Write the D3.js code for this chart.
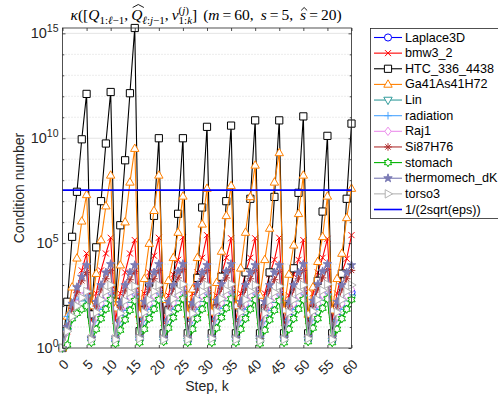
<!DOCTYPE html>
<html>
<head>
<meta charset="utf-8">
<script src="https://cdn.jsdelivr.net/npm/d3@7"></script>
<style>
  body { margin: 0; background: #fff; }
  svg { display: block; }
</style>
</head>
<body>
<svg id="chart" width="498" height="398"></svg>
<script>
// Step index k = 0..60
const steps = d3.range(0, 61);

// Condition numbers per test matrix, one value per step k
const laplace3D = [1,
  7.9, 32, 79, 200, 400,
  2.5, 20, 79, 200, 450,
  2.2, 18, 70, 180, 400,
  2.5, 22, 89, 230, 450,
  2.5, 20, 79, 200, 400,
  2.2, 20, 79, 200, 450,
  2.5, 22, 79, 180, 400,
  2.5, 20, 89, 230, 450,
  2.2, 18, 70, 200, 400,
  2.5, 20, 79, 200, 450,
  2.5, 22, 79, 200, 400,
  2.2, 20, 79, 230, 450];

const bmw3_2 = [1,
  6.3, 63, 630, 5e3, 3.2e4,
  20, 400, 5e3, 3.2e4, 1.8e5,
  20, 400, 4e3, 3.2e4, 1.4e5,
  20, 400, 4e3, 2.5e4, 1.8e5,
  16, 320, 3.2e3, 1.6e4, 1.9e5,
  20, 400, 4e3, 2e4, 2.4e5,
  20, 320, 3.2e3, 2e4, 1.7e5,
  20, 400, 4e3, 2e4, 1.7e5,
  20, 400, 3.2e3, 1.6e4, 1.8e5,
  16, 320, 3.2e3, 1.6e4, 1.4e5,
  20, 400, 4e3, 2e4, 1.6e5,
  20, 400, 4e3, 1.8e4, 2.4e5];

const htc336 = [1,
  160, 2e5, 2.8e7, 8.9e9, 1.3e12,
  40, 6.3e4, 1e7, 5.6e9, 1.6e12,
  160, 7.1e5, 8.9e8, 1.4e12, 1.8e15,
  6.3, 63, 1.3e3, 2e6, 1e10,
  5, 63, 1e3, 2.5e6, 1e10,
  5, 79, 2.2e3, 5e6, 3.5e10,
  5, 79, 2.5e3, 1e7, 4e10,
  5, 79, 4e3, 1.3e7, 7.1e10,
  5, 79, 4e3, 1.6e7, 7.1e10,
  5, 100, 6.3e3, 2.5e7, 1.1e11,
  5, 63, 1.6e3, 3.2e6, 1.3e10,
  5, 79, 3.5e3, 1.3e7, 5e10];

const ga41As41H72 = [1,
  32, 790, 1.9e4, 1.1e6, 2e7,
  100, 3.5e3, 1.4e5, 5.8e6, 1.7e8,
  79, 8.9e3, 1e6, 7.9e7, 3.2e9,
  40, 2e3, 9.5e4, 3.5e6, 1.7e8,
  200, 1.6e3, 2e4, 3.2e5, 1.7e7,
  40, 630, 2e4, 7.9e5, 4e7,
  50, 1.3e3, 4e4, 2e6, 5.4e7,
  100, 6.3e3, 3.2e5, 1.6e7, 5.1e8,
  320, 1.6e4, 5e5, 7.9e7, 2e9,
  63, 3.2e3, 7.9e4, 2.5e6, 1.7e8,
  40, 790, 1.3e4, 2e5, 1.7e7,
  63, 2e3, 3.2e4, 1.6e6, 4e7];

const lin = [1,
  6.3, 25, 63, 130, 250,
  2.5, 16, 50, 130, 250,
  2.2, 16, 45, 110, 220,
  2.5, 18, 50, 130, 280,
  2.5, 16, 50, 130, 250,
  2.2, 16, 50, 120, 250,
  2.5, 18, 56, 130, 280,
  2.5, 16, 50, 130, 250,
  2.2, 14, 45, 110, 220,
  2.5, 16, 50, 130, 250,
  2.5, 18, 50, 140, 280,
  2.2, 16, 50, 130, 250];

const radiation = [1,
  32, 130, 200, 250, 320,
  2.5, 25, 100, 320, 500,
  2.5, 22, 89, 280, 450,
  2.8, 25, 100, 320, 500,
  2.5, 25, 110, 350, 560,
  2.5, 22, 100, 320, 500,
  2.8, 28, 110, 350, 560,
  2.5, 25, 100, 320, 500,
  2.2, 22, 89, 280, 450,
  2.5, 25, 100, 320, 500,
  2.8, 28, 100, 350, 560,
  2.5, 25, 100, 320, 500];

const raj1 = [1,
  6.3, 40, 130, 280, 500,
  2.5, 32, 130, 320, 630,
  2.5, 28, 110, 280, 560,
  2.8, 32, 130, 320, 630,
  2.5, 32, 140, 350, 700,
  2.5, 28, 130, 320, 630,
  2.8, 35, 140, 350, 700,
  2.5, 32, 130, 320, 630,
  2.2, 28, 110, 280, 560,
  2.5, 32, 130, 320, 630,
  2.8, 35, 130, 350, 700,
  2.5, 32, 130, 320, 630];

const si87H76 = [1,
  10, 78, 430, 1.6e3, 4e3,
  3.2, 100, 630, 2e3, 5e3,
  3.2, 89, 560, 1.8e3, 4.5e3,
  3.5, 100, 630, 2e3, 5e3,
  3.2, 100, 700, 2.2e3, 5.6e3,
  3.2, 89, 630, 2e3, 5e3,
  3.5, 110, 700, 2.2e3, 5.6e3,
  3.2, 100, 630, 2e3, 5e3,
  2.8, 89, 560, 1.8e3, 4.5e3,
  3.2, 100, 630, 2e3, 5e3,
  3.5, 110, 630, 2.2e3, 5.6e3,
  3.2, 100, 630, 2e3, 5e3];

const stomach = [1,
  1.4, 25, 45, 71, 100,
  1.8, 7.9, 25, 71, 200,
  1.6, 7.1, 22, 63, 180,
  1.8, 7.9, 25, 71, 200,
  2.0, 8.9, 28, 79, 220,
  1.8, 7.9, 25, 71, 200,
  1.8, 8.9, 28, 79, 220,
  1.8, 7.9, 25, 71, 200,
  1.6, 7.1, 22, 63, 180,
  1.8, 7.9, 25, 71, 200,
  2.0, 8.9, 25, 79, 220,
  1.8, 7.9, 25, 71, 200];

const thermomechDK = [1,
  10, 130, 790, 2.5e3, 8.9e3,
  3.2, 160, 1e3, 4e3, 1e4,
  3.2, 140, 1e3, 4e3, 8.9e3,
  3.5, 160, 1.1e3, 4e3, 1e4,
  3.2, 160, 1e3, 4.5e3, 1e4,
  3.2, 140, 1e3, 4e3, 8.9e3,
  3.5, 180, 1.1e3, 4.5e3, 1e4,
  3.2, 160, 1e3, 4e3, 8.9e3,
  3.2, 160, 1e3, 4e3, 8.9e3,
  3.2, 160, 1e3, 4e3, 1e4,
  3.5, 180, 1.1e3, 4.5e3, 1e4,
  3.2, 160, 1e3, 4e3, 8.9e3];

const torso3 = [1,
  6.3, 32, 100, 250, 500,
  2.5, 50, 200, 500, 1e3,
  2.5, 45, 180, 450, 890,
  2.8, 50, 200, 500, 1e3,
  2.5, 50, 220, 560, 1.1e3,
  2.5, 45, 200, 500, 1e3,
  2.8, 56, 220, 560, 1.1e3,
  2.5, 50, 200, 500, 1e3,
  2.2, 45, 180, 450, 890,
  2.5, 50, 200, 500, 1e3,
  2.8, 56, 200, 560, 1.1e3,
  2.5, 50, 200, 500, 1e3];

// Double-precision machine epsilon and the reference level 1/(2*sqrt(eps))
const machineEps = 2.220446049250313e-16;
const epsLevel = 1 / (2 * Math.sqrt(machineEps));

const seriesNames = ["Laplace3D", "bmw3_2", "HTC_336_4438", "Ga41As41H72", "Lin",
  "radiation", "Raj1", "Si87H76", "stomach", "thermomech_dK", "torso3"];
const seriesValues = [laplace3D, bmw3_2, htc336, ga41As41H72, lin,
  radiation, raj1, si87H76, stomach, thermomechDK, torso3];
const seriesMarkers = ["o", "x", "s", "^", "v", "+", "d", "*", "h", "p", ">"];
const seriesColors = ["#0000ff", "#ff0000", "#000000", "#ff8000", "#339c9c",
  "#4da6ff", "#ec8eec", "#b03030", "#00b300", "#7b7bb5", "#b3b3b3"];
const epsLabel = "1/(2sqrt(eps))";

const xTickValues = [0, 5, 10, 15, 20, 25, 30, 35, 40, 45, 50, 55, 60];
const yTickExponents = [0, 5, 10, 15];
const yMinorExponents = [1, 2, 3, 4, 6, 7, 8, 9, 11, 12, 13, 14];

const sans = "'Liberation Sans', Arial, Helvetica, sans-serif";
const serif = "'Liberation Serif', 'DejaVu Serif', serif";

const svg = d3.select("#chart");
const plot = { left: 62.5, right: 351.5, top: 28, bottom: 348 };

const allValues = seriesValues.flat();
const x = d3.scaleLinear().domain([0, 60]).range([plot.left, plot.right]);
const y = d3.scaleLog().domain([d3.min(allValues), d3.max(allValues)]).range([plot.bottom, plot.top]);

// Grid: solid at labelled decades, dotted at the others
const grid = svg.append("g");
grid.selectAll("line.minor").data(yMinorExponents).join("line")
  .attr("x1", plot.left).attr("x2", plot.right)
  .attr("y1", d => y(Math.pow(10, d))).attr("y2", d => y(Math.pow(10, d)))
  .attr("stroke", "#cfcfcf").attr("stroke-width", 0.8).attr("stroke-dasharray", "1,2");
grid.selectAll("line.major").data(yTickExponents.filter(e => e > 0)).join("line")
  .attr("x1", plot.left).attr("x2", plot.right)
  .attr("y1", d => y(Math.pow(10, d))).attr("y2", d => y(Math.pow(10, d)))
  .attr("stroke", "#e4e4e4").attr("stroke-width", 1);

// Marker shapes
function markerPath(m) {
  switch (m) {
    case "o": return d3.symbol(d3.symbolCircle, 40)();
    case "x": return "M-3,-3L3,3M-3,3L3,-3";
    case "s": return "M-3.6,-3.6h7.2v7.2h-7.2Z";
    case "^": return "M0,-4.6L4.2,2.8L-4.2,2.8Z";
    case "v": return "M0,4.6L4.2,-2.8L-4.2,-2.8Z";
    case ">": return "M4.6,0L-2.8,4.2L-2.8,-4.2Z";
    case "+": return "M-3.8,0H3.8M0,-3.8V3.8";
    case "d": return "M0,-4.2L3.2,0L0,4.2L-3.2,0Z";
    case "*": return "M-3.8,0H3.8M0,-3.8V3.8M-2.7,-2.7L2.7,2.7M-2.7,2.7L2.7,-2.7";
    case "p": return d3.symbol(d3.symbolStar, 22)();
    case "h": {
      const pts = d3.range(12).map(i => {
        const a = -Math.PI / 2 + i * Math.PI / 6;
        const r = i % 2 === 0 ? 4.2 : 2.4;
        return [r * Math.cos(a), r * Math.sin(a)];
      });
      return "M" + pts.map(p => p[0].toFixed(2) + "," + p[1].toFixed(2)).join("L") + "Z";
    }
  }
  return "";
}
const openMarkers = new Set(["x", "+", "*"]);
function markerFill(m, c) {
  if (openMarkers.has(m)) return "none";
  if (m === "p") return c;
  return "#fff";
}

const line = d3.line().x((d, i) => x(steps[i])).y(d => y(d));

const plotArea = svg.append("g");
seriesValues.forEach((vals, si) => {
  const g = plotArea.append("g");
  const c = seriesColors[si], m = seriesMarkers[si];
  g.append("path").datum(vals).attr("d", line)
    .attr("fill", "none").attr("stroke", c).attr("stroke-width", 1.1)
    .attr("stroke-linejoin", "round");
  g.selectAll("path.mk").data(vals).join("path").attr("class", "mk")
    .attr("transform", (d, i) => `translate(${x(steps[i])},${y(d)})`)
    .attr("d", markerPath(m))
    .attr("fill", markerFill(m, c)).attr("stroke", c).attr("stroke-width", 1);
});

// Reference level line
plotArea.append("line")
  .attr("x1", x(0)).attr("x2", x(60))
  .attr("y1", y(epsLevel)).attr("y2", y(epsLevel))
  .attr("stroke", "#0000ff").attr("stroke-width", 1.6);

// Axes box and ticks
const axisColor = "#262626";
svg.append("rect")
  .attr("x", plot.left).attr("y", plot.top)
  .attr("width", plot.right - plot.left).attr("height", plot.bottom - plot.top)
  .attr("fill", "none").attr("stroke", axisColor).attr("stroke-width", 0.8);

const xAxisBottom = d3.axisBottom(x).tickValues(xTickValues).tickSize(-3).tickFormat("");
const xAxisTop = d3.axisTop(x).tickValues(xTickValues).tickSize(-3).tickFormat("");
svg.append("g").attr("transform", `translate(0,${plot.bottom})`).call(xAxisBottom)
  .call(g => g.select(".domain").remove())
  .call(g => g.selectAll("line").attr("stroke", axisColor).attr("stroke-width", 0.8));
svg.append("g").attr("transform", `translate(0,${plot.top})`).call(xAxisTop)
  .call(g => g.select(".domain").remove())
  .call(g => g.selectAll("line").attr("stroke", axisColor).attr("stroke-width", 0.8));

const decadeTicks = yTickExponents.concat(yMinorExponents).map(e => Math.pow(10, e));
const yAxisLeft = d3.axisLeft(y).tickValues(decadeTicks).tickSize(-3).tickFormat("");
const yAxisRight = d3.axisRight(y).tickValues(decadeTicks).tickSize(-3).tickFormat("");
svg.append("g").attr("transform", `translate(${plot.left},0)`).call(yAxisLeft)
  .call(g => g.select(".domain").remove())
  .call(g => g.selectAll("line").attr("stroke", axisColor).attr("stroke-width", 0.8)
    .attr("x2", d => yTickExponents.includes(Math.round(Math.log10(d))) ? 3 : 1.8));
svg.append("g").attr("transform", `translate(${plot.right},0)`).call(yAxisRight)
  .call(g => g.select(".domain").remove())
  .call(g => g.selectAll("line").attr("stroke", axisColor).attr("stroke-width", 0.8)
    .attr("x2", d => yTickExponents.includes(Math.round(Math.log10(d))) ? -3 : -1.8));

// X tick labels, rotated
svg.append("g").selectAll("text").data(xTickValues).join("text")
  .attr("transform", d => `translate(${x(d) + 4},${plot.bottom + 14}) rotate(-45)`)
  .attr("text-anchor", "end").attr("dominant-baseline", "central")
  .style("font-family", sans).style("font-size", "13.5px").attr("fill", axisColor)
  .text(d => d);

// Y tick labels as powers of ten
const yLab = svg.append("g").selectAll("text").data(yTickExponents).join("text")
  .attr("x", plot.left - 4).attr("y", d => y(Math.pow(10, d)) + 5)
  .attr("text-anchor", "end")
  .style("font-family", sans).style("font-size", "14.5px").attr("fill", axisColor);
yLab.append("tspan").text("10");
yLab.append("tspan").attr("dy", -6.5).style("font-size", "10.5px").text(d => d);

// Axis titles
svg.append("text")
  .attr("transform", `translate(19,${(plot.top + plot.bottom) / 2}) rotate(-90)`)
  .attr("text-anchor", "middle").attr("dominant-baseline", "central")
  .style("font-family", sans).style("font-size", "14px").attr("fill", axisColor)
  .text("Condition number");
svg.append("text")
  .attr("x", (plot.left + plot.right) / 2).attr("y", 391)
  .attr("text-anchor", "middle")
  .style("font-family", sans).style("font-size", "14px").attr("fill", axisColor)
  .text("Step, k");

// Title set as inline math
const tg = svg.append("g");
let cursor = 0;
function put(str, opt = {}) {
  const size = opt.size || 15.5;
  const t = tg.append("text").attr("x", cursor).attr("y", opt.dy || 0)
    .style("font-family", serif).style("font-size", size + "px")
    .style("font-style", opt.italic ? "italic" : "normal")
    .attr("fill", "#000").text(str);
  const w = t.node().getComputedTextLength();
  const x0 = cursor;
  if (opt.advance !== false) cursor += w;
  return { x0, w };
}
function gap(w) { cursor += w; }
const sub = 4, sup = -6.5, small = 11;
put("κ", { italic: true });
put("([");
put("Q", { italic: true });
put("1:", { size: small, dy: sub });
put("ℓ", { size: small, dy: sub, italic: true });
put("−1", { size: small, dy: sub });
put(","); gap(3);
const q2 = put("Q", { italic: true });
put("ℓ", { size: small, dy: sub, italic: true });
put(":", { size: small, dy: sub });
put("j", { size: small, dy: sub, italic: true });
put("−1", { size: small, dy: sub });
put(","); gap(3);
put("v", { italic: true });
const supStart = cursor;
put("(", { size: small, dy: sup });
put("j", { size: small, dy: sup, italic: true });
put(")", { size: small, dy: sup });
const supEnd = cursor;
cursor = supStart;
put("1:", { size: small, dy: sub });
put("k", { size: small, dy: sub, italic: true });
cursor = Math.max(cursor, supEnd);
put("]"); gap(6);
put("("); put("m", { italic: true }); gap(3); put("="); gap(3); put("60,"); gap(7);
put("s", { italic: true }); gap(3); put("="); gap(3); put("5,"); gap(7);
const sHat = put("s", { italic: true }); gap(3); put("="); gap(3); put("20)");
// hats over Q and s
tg.append("path")
  .attr("d", `M${q2.x0 + 1.5},-12.5L${q2.x0 + q2.w / 2 + 1.5},-15.5L${q2.x0 + q2.w + 1.5},-12.5`)
  .attr("fill", "none").attr("stroke", "#000").attr("stroke-width", 0.9);
tg.append("path")
  .attr("d", `M${sHat.x0 + 1},-9.5L${sHat.x0 + sHat.w / 2 + 1},-12.5L${sHat.x0 + sHat.w + 1},-9.5`)
  .attr("fill", "none").attr("stroke", "#000").attr("stroke-width", 0.9);
tg.attr("transform", `translate(${206 - cursor / 2},20)`);

// Legend
const legendNames = seriesNames.concat([epsLabel]);
const lg = svg.append("g");
lg.append("rect").attr("x", 370.5).attr("y", 28.5).attr("width", 150).attr("height", 190)
  .attr("fill", "#fff").attr("stroke", axisColor).attr("stroke-width", 0.8);
const rowY = d3.scaleLinear().domain([0, legendNames.length - 1]).range([37.5, 209.5]);
legendNames.forEach((name, i) => {
  const yy = rowY(i);
  const isEps = i === seriesNames.length;
  const c = isEps ? "#0000ff" : seriesColors[i];
  lg.append("line").attr("x1", 374).attr("x2", 402).attr("y1", yy).attr("y2", yy)
    .attr("stroke", c).attr("stroke-width", isEps ? 1.6 : 1.1);
  if (!isEps) {
    const m = seriesMarkers[i];
    lg.append("path").attr("transform", `translate(388,${yy})`).attr("d", markerPath(m))
      .attr("fill", markerFill(m, c)).attr("stroke", c).attr("stroke-width", 1);
  }
  lg.append("text").attr("x", 405).attr("y", yy).attr("dominant-baseline", "central")
    .style("font-family", sans).style("font-size", "12.6px").attr("fill", "#000")
    .text(name);
});
</script>
</body>
</html>
